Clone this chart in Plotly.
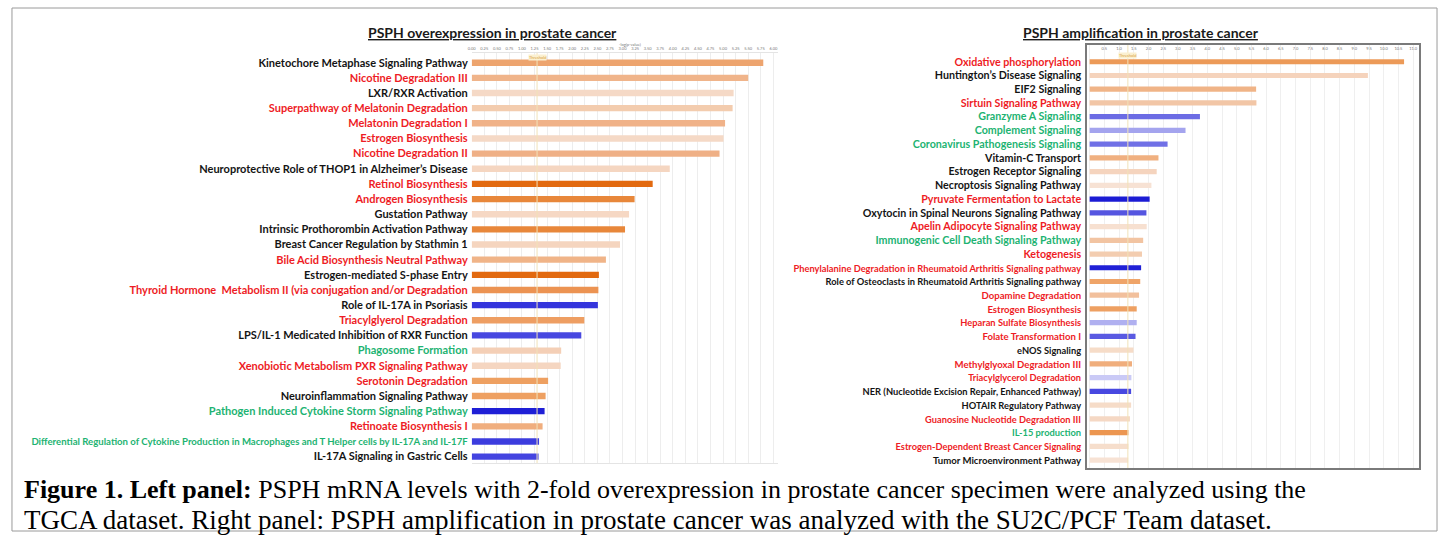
import plotly.graph_objects as go

W, H = 1445, 537

# ---------------- DATA ----------------
left_pathways = [
    "Kinetochore Metaphase Signaling Pathway",
    "Nicotine Degradation III",
    "LXR/RXR Activation",
    "Superpathway of Melatonin Degradation",
    "Melatonin Degradation I",
    "Estrogen Biosynthesis",
    "Nicotine Degradation II",
    "Neuroprotective Role of THOP1 in Alzheimer\u2019s Disease",
    "Retinol Biosynthesis",
    "Androgen Biosynthesis",
    "Gustation Pathway",
    "Intrinsic Prothorombin Activation Pathway",
    "Breast Cancer Regulation by Stathmin 1",
    "Bile Acid Biosynthesis Neutral Pathway",
    "Estrogen-mediated S-phase Entry",
    "Thyroid Hormone  Metabolism II (via conjugation and/or Degradation",
    "Role of IL-17A in Psoriasis",
    "Triacylglyerol Degradation",
    "LPS/IL-1 Medicated Inhibition of RXR Function",
    "Phagosome Formation",
    "Xenobiotic Metabolism PXR Signaling Pathway",
    "Serotonin Degradation",
    "Neuroinflammation Signaling Pathway",
    "Pathogen Induced Cytokine Storm Signaling Pathway",
    "Retinoate Biosynthesis I",
    "Differential Regulation of Cytokine Production in Macrophages and T Helper cells by IL-17A and IL-17F",
    "IL-17A Signaling in Gastric Cells",
]
left_values = [5.80, 5.50, 5.21, 5.19, 5.04, 5.01, 4.93, 3.94, 3.60, 3.24,
               3.13, 3.05, 2.95, 2.67, 2.53, 2.52, 2.51, 2.24, 2.18, 1.78,
               1.77, 1.52, 1.47, 1.45, 1.41, 1.34, 1.33]
left_label_groups = ["k", "r", "k", "r", "r", "r", "r", "k", "r", "r",
                     "k", "k", "k", "r", "k", "r", "k", "r", "k", "g",
                     "r", "r", "k", "g", "r", "g", "k"]

right_pathways = [
    "Oxidative phosphorylation",
    "Huntington\u2019s Disease Signaling",
    "EIF2 Signaling",
    "Sirtuin Signaling Pathway",
    "Granzyme A Signaling",
    "Complement Signaling",
    "Coronavirus Pathogenesis Signaling",
    "Vitamin-C Transport",
    "Estrogen Receptor Signaling",
    "Necroptosis Signaling Pathway",
    "Pyruvate Fermentation to Lactate",
    "Oxytocin in Spinal Neurons Signaling Pathway",
    "Apelin Adipocyte Signaling Pathway",
    "Immunogenic Cell Death Signaling Pathway",
    "Ketogenesis",
    "Phenylalanine Degradation in Rheumatoid Arthritis Signaling pathway",
    "Role of Osteoclasts in Rheumatoid Arthritis Signaling pathway",
    "Dopamine Degradation",
    "Estrogen Biosynthesis",
    "Heparan Sulfate Biosynthesis",
    "Folate Transformation I",
    "eNOS Signaling",
    "Methylglyoxal Degradation III",
    "Triacylglycerol Degradation",
    "NER (Nucleotide Excision Repair, Enhanced Pathway)",
    "HOTAIR Regulatory Pathway",
    "Guanosine Nucleotide Degradation III",
    "IL-15 production",
    "Estrogen-Dependent Breast Cancer Signaling",
    "Tumor Microenvironment Pathway",
]
right_values = [10.69, 9.46, 5.66, 5.67, 3.75, 3.26, 2.65, 2.34, 2.28, 2.10,
                2.04, 1.93, 1.94, 1.82, 1.78, 1.75, 1.72, 1.68, 1.60, 1.60,
                1.56, 1.49, 1.44, 1.42, 1.41, 1.41, 1.37, 1.32, 1.32, 1.31]
right_label_groups = ["r", "k", "k", "r", "g", "g", "g", "k", "k", "k",
                      "r", "k", "r", "g", "r", "r", "k", "r", "r", "r",
                      "r", "k", "r", "r", "k", "k", "r", "g", "r", "k"]

left_tick_labels = ["0.00", "0.25", "0.50", "0.75", "1.00", "1.25", "1.50", "1.75",
                    "2.00", "2.25", "2.50", "2.75", "3.00", "3.25", "3.50", "3.75",
                    "4.00", "4.25", "4.50", "4.75", "5.00", "5.25", "5.50", "5.75", "6.00"]
right_tick_labels = ["0.0", "0.5", "1.0", "1.5", "2.0", "2.5", "3.0", "3.5", "4.0",
                     "4.5", "5.0", "5.5", "6.0", "6.5", "7.0", "7.5", "8.0", "8.5",
                     "9.0", "9.5", "10.0", "10.5", "11.0"]
THRESHOLD = 1.3

# ---------------- STYLE ----------------
left_bar_colors = ["#EDA46E", "#F0B48A", "#F5D9C6", "#F3CCAE", "#F0B288", "#F5D9C6",
                   "#EFB086", "#F5D6C1", "#E2690F", "#E8873A", "#F6D8C4", "#E8873A",
                   "#F5D5BF", "#F0B488", "#E2690F", "#EC9352", "#3535DC", "#EE9E62",
                   "#4848E0", "#F4CFB6", "#F5D6C1", "#EEA061", "#EEA061", "#1F1FD6",
                   "#F0AE7E", "#3C3CDE", "#4444E0"]
right_bar_colors = ["#EC9A58", "#F5D3BC", "#F0B487", "#F2C6A6", "#6C6CE4", "#A4A4EE",
                    "#7070E6", "#F0B080", "#F5D4BE", "#F7E2D4", "#1C1CD4", "#5555E0",
                    "#F7E0D0", "#F2C4A2", "#F3CDB0", "#2020D6", "#EFA468", "#F2C09C",
                    "#EEA062", "#B0B0F0", "#5A5AE2", "#F6DCC8", "#F0AE7C", "#CACAF6",
                    "#4848E0", "#F6DCC8", "#F5D8C4", "#EC9650", "#F6DECC", "#F7E2D4"]
label_color = {"k": "#141414", "r": "#EE1C25", "g": "#1DB372"}
left_label_sizes = [11] * 25 + [9.6, 11]
right_label_sizes = [10.7] * 15 + [9.3, 9.3, 9.6, 9.6, 9.3, 9.6, 9.3, 9.6, 9.3, 9.3, 9.3, 9.3, 9.3, 9.3, 9.6]

FONT = "Lato"


def pxx(x):
    return x / W


def pxy(y):
    return 1 - y / H


def styled(names, groups, sizes):
    out = []
    for n, g, s in zip(names, groups, sizes):
        out.append(f'<span style="color:{label_color[g]};font-size:{s}px"><b>{n}</b></span>')
    return out


fig = go.Figure()

fig.add_trace(go.Bar(
    x=left_values, y=left_pathways, orientation="h",
    marker=dict(color=left_bar_colors, line=dict(width=0)),
    width=0.42, xaxis="x", yaxis="y", showlegend=False,
))
fig.add_trace(go.Bar(
    x=right_values, y=right_pathways, orientation="h",
    marker=dict(color=right_bar_colors, line=dict(width=0)),
    width=0.38, xaxis="x2", yaxis="y2", showlegend=False,
))

# Axes ------------------------------------------------------------
L_X0, L_X1, L_Y0, L_Y1 = 469, 776, 53, 463
R_X0, R_X1, R_Y0, R_Y1 = 1086, 1419, 45, 468

fig.update_layout(
    xaxis=dict(
        domain=[pxx(L_X0), pxx(L_X1)], range=[0, 6.09], side="top", anchor="y",
        tickvals=[float(t) for t in left_tick_labels], ticktext=left_tick_labels,
        tickfont=dict(size=4, color="#777", family=FONT), ticks="", ticklabelstandoff=0,
        showgrid=True, gridcolor="#EDEDED", gridwidth=1, zeroline=False,
        showline=True, linecolor="#E4E4E4", mirror=True,
    ),
    yaxis=dict(
        domain=[pxy(L_Y1), pxy(L_Y0)], anchor="x",
        range=[26.42, -0.64], type="category",
        tickvals=left_pathways, ticktext=styled(left_pathways, left_label_groups, left_label_sizes),
        tickfont=dict(size=11, family=FONT), ticks="", ticklabelstandoff=3,
        showgrid=False, zeroline=False, showline=False,
    ),
    xaxis2=dict(
        domain=[pxx(R_X0), pxx(R_X1)], range=[-0.09, 11.2], side="top", anchor="y2",
        tickvals=[float(t) for t in right_tick_labels], ticktext=right_tick_labels,
        tickfont=dict(size=4, color="#777", family=FONT), ticks="",
        ticklabelposition="inside",
        showgrid=True, gridcolor="#EFEFEF", gridwidth=1, zeroline=False,
        showline=True, linecolor="#7A7A7A", linewidth=1.5, mirror=True,
    ),
    yaxis2=dict(
        domain=[pxy(R_Y1), pxy(R_Y0)], anchor="x2",
        range=[29.58, -1.22], type="category",
        tickvals=right_pathways, ticktext=styled(right_pathways, right_label_groups, right_label_sizes),
        tickfont=dict(size=10.7, family=FONT), ticks="", ticklabelstandoff=2,
        showgrid=False, zeroline=False, showline=True, linecolor="#7A7A7A", linewidth=1.5, mirror=True,
    ),
)

shapes = []
# threshold lines
shapes.append(dict(type="line", xref="x", yref="y domain", x0=THRESHOLD, x1=THRESHOLD, y0=0, y1=1,
                   line=dict(color="#F1E2B8", width=1)))
shapes.append(dict(type="line", xref="x2", yref="y2 domain", x0=THRESHOLD, x1=THRESHOLD, y0=0, y1=1,
                   line=dict(color="#F1E2B8", width=1)))
# outer frame
shapes.append(dict(type="rect", xref="paper", yref="paper",
                   x0=pxx(8), x1=pxx(1437), y0=pxy(531), y1=pxy(8),
                   line=dict(color="#9A9A9A", width=1), fillcolor="rgba(0,0,0,0)", layer="below"))

annotations = []
annotations.append(dict(text="<b><u>PSPH overexpression in prostate cancer</u></b>",
                        x=pxx(490), y=pxy(32), xref="paper", yref="paper",
                        xanchor="center", yanchor="middle",
                        showarrow=False, font=dict(size=14, color="#1A1A1A", family=FONT)))
annotations.append(dict(text="<b><u>PSPH amplification in prostate cancer</u></b>",
                        x=pxx(1140), y=pxy(32), xref="paper", yref="paper",
                        xanchor="center", yanchor="middle",
                        showarrow=False, font=dict(size=14, color="#1A1A1A", family=FONT)))
annotations.append(dict(text="-log(p-value)", x=pxx(628), y=pxy(45), xref="paper", yref="paper",
                        xanchor="center", yanchor="middle", borderpad=0,
                        showarrow=False, font=dict(size=4, color="#777", family=FONT)))
annotations.append(dict(text="Threshold", x=THRESHOLD, xref="x", y=pxy(57), yref="paper",
                        xanchor="center", yanchor="middle",
                        showarrow=False, font=dict(size=4, color="#D8A03C", family=FONT),
                        bgcolor="#FBF0D0", borderpad=0))
annotations.append(dict(text="Threshold", x=THRESHOLD, xref="x2", y=pxy(55.5), yref="paper",
                        xanchor="center", yanchor="middle",
                        showarrow=False, font=dict(size=4, color="#D8A03C", family=FONT),
                        bgcolor="#FBF0D0", borderpad=0))
caption1 = ("<b>Figure 1. Left panel:</b> PSPH mRNA levels with 2-fold overexpression in prostate "
            "cancer specimen were analyzed using the")
caption2 = ("TGCA dataset. Right panel: PSPH amplification in prostate cancer was analyzed with the "
            "SU2C/PCF Team dataset.")
annotations.append(dict(text=caption1, x=pxx(19), y=pxy(489), xref="paper", yref="paper",
                        xanchor="left", yanchor="middle", showarrow=False, borderpad=0,
                        font=dict(size=26, color="#000", family="Liberation Serif")))
annotations.append(dict(text=caption2, x=pxx(19), y=pxy(519.5), xref="paper", yref="paper",
                        xanchor="left", yanchor="middle", showarrow=False, borderpad=0,
                        font=dict(size=27, color="#000", family="Liberation Serif")))

fig.update_layout(
    width=W, height=H, margin=dict(l=0, r=0, t=0, b=0),
    paper_bgcolor="white", plot_bgcolor="white",
    shapes=shapes, annotations=annotations, bargap=0.5,
    font=dict(family=FONT),
)

fig.write_html(
    "out.html",
    config={"displayModeBar": False},
    post_script="document.body.style.margin='0';document.body.style.padding='0';"
                "document.body.style.overflow='hidden';",
)
